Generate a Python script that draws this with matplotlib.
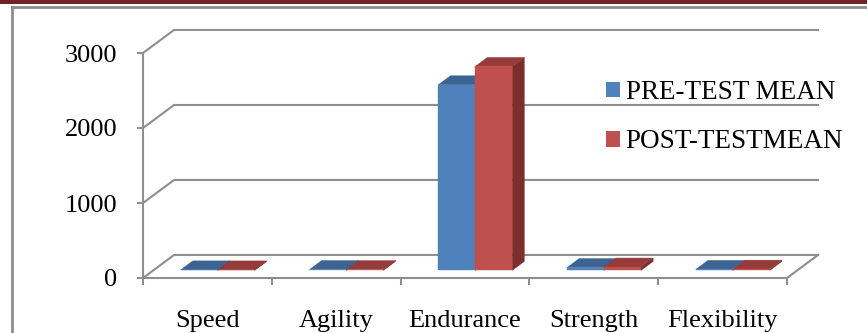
import matplotlib.pyplot as plt
from matplotlib.patches import Polygon, Patch, Rectangle
from matplotlib.lines import Line2D

categories = ['Speed', 'Agility', 'Endurance', 'Strength', 'Flexibility']
pre_test = [7.2, 11.4, 2475, 38, 14]
post_test = [6.8, 10.6, 2720, 45, 17]
series_labels = ['PRE-TEST MEAN', 'POST-TESTMEAN']
y_ticks = [0, 1000, 2000, 3000]

# face colours: front, top, side
BLUE = ('#4F81BD', '#3C6493', '#2F4F75')
RED = ('#C0504D', '#963B39', '#7B2E2C')
GRID = '#8E8E8E'

# oblique depth axis, expressed in data units (categories, value)
DX = 0.241
DY = 307.0
BAR_W = 0.287
BAR_FRONT, BAR_BACK = 0.33, 0.72

plt.rcParams['font.family'] = ['Liberation Serif', 'DejaVu Serif']


def proj(x, y, d):
    return x + d * DX, y + d * DY


def face(ax, pts, color, z):
    ax.add_patch(Polygon(pts, closed=True, facecolor=color, edgecolor=color,
                         lw=0.3, clip_on=False, zorder=z))


fig = plt.figure(figsize=(8.67, 3.33), dpi=100)
ax = fig.add_axes([143 / 867, 55 / 333, 644 / 867, 225 / 333])
n = len(categories)
ax.set_xlim(0, n)
ax.set_ylim(0, y_ticks[-1])

# side wall diagonals + back wall gridlines
for v in y_ticks:
    pts = [proj(0, v, 0), proj(0, v, 1), proj(n, v, 1)]
    ax.plot([p[0] for p in pts], [p[1] for p in pts], color=GRID, lw=1.5,
            clip_on=False, zorder=1)
# right edge of the floor
pts = [proj(n, 0, 0), proj(n, 0, 1)]
ax.plot([p[0] for p in pts], [p[1] for p in pts], color=GRID, lw=1.5,
        clip_on=False, zorder=1)

# 3d bars
for k, (vals, cols) in enumerate([(pre_test, BLUE), (post_test, RED)]):
    for i, v in enumerate(vals):
        x0 = i + 0.5 - BAR_W + k * BAR_W
        x1 = x0 + BAR_W
        f, b = BAR_FRONT, BAR_BACK
        side = [proj(x1, 0, f), proj(x1, 0, b), proj(x1, v, b), proj(x1, v, f)]
        top = [proj(x0, v, f), proj(x1, v, f), proj(x1, v, b), proj(x0, v, b)]
        front = [proj(x0, 0, f), proj(x1, 0, f), proj(x1, v, f), proj(x0, v, f)]
        face(ax, side, cols[2], 3 + k)
        face(ax, top, cols[1], 3 + k)
        face(ax, front, cols[0], 3 + k)

for s in ['top', 'right']:
    ax.spines[s].set_visible(False)
for s in ['left', 'bottom']:
    ax.spines[s].set_color(GRID)
    ax.spines[s].set_linewidth(1.5)
    ax.spines[s].set_zorder(2)

ax.set_yticks(y_ticks)
ax.tick_params(axis='y', length=4.5, width=1.5, color=GRID, pad=14,
               labelsize=19)
ax.set_xticks(range(n + 1))
ax.set_xticklabels([])
ax.set_xticks([i + 0.5 for i in range(n)], minor=True)
ax.set_xticklabels(categories, minor=True)
ax.tick_params(axis='x', which='major', length=5, width=1.5, color=GRID)
ax.tick_params(axis='x', which='minor', length=0, pad=23, labelsize=19)
ax.patch.set_visible(False)

handles = [Patch(facecolor=BLUE[0]), Patch(facecolor=RED[0])]
fig.legend(handles, series_labels, loc='upper left',
           bbox_to_anchor=(606 / 867, 1 - 80 / 333),
           bbox_transform=fig.transFigure, frameon=False, fontsize=19.5,
           handlelength=0.52, handleheight=0.52, handletextpad=0.2,
           labelspacing=0.9, borderpad=0, borderaxespad=0)

# page border around the chart
fig.add_artist(Rectangle((0, 1 - 3.5 / 333), 1, 3.5 / 333,
                         transform=fig.transFigure, color='#6E2526', lw=0))
fig.add_artist(Line2D([11.5 / 867, 1], [1 - 7 / 333] * 2,
                      transform=fig.transFigure, color='#8C8C8C', lw=2))
fig.add_artist(Line2D([11.5 / 867] * 2, [0, 1 - 7 / 333],
                      transform=fig.transFigure, color='#8C8C8C', lw=2))

fig.savefig('out.png', dpi=100)
